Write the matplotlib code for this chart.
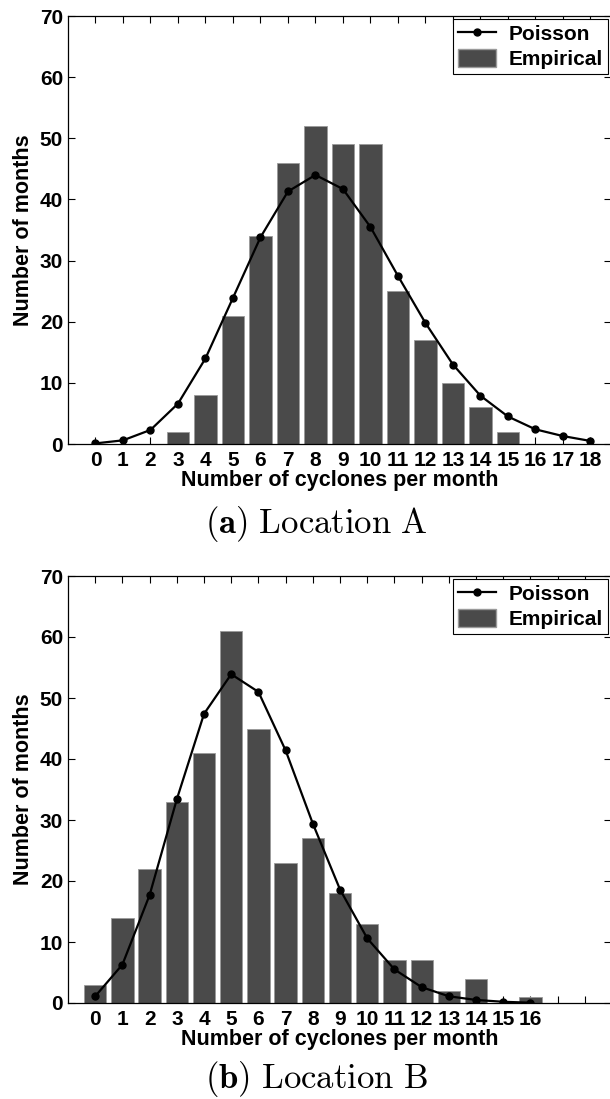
import matplotlib
matplotlib.use("Agg")
import matplotlib.pyplot as plt
from matplotlib.lines import Line2D
from matplotlib.patches import Patch

plt.rcParams['font.family'] = ['Liberation Sans', 'DejaVu Sans']
plt.rcParams['font.weight'] = 'bold'
plt.rcParams['mathtext.fontset'] = 'cm'

# ---- data (Location A) ----
counts_a = list(range(0, 19))
empirical_a = [0, 0, 0, 2, 8, 21, 34, 46, 52, 49, 49, 25, 17, 10, 6, 2, 0, 0, 0]
poisson_a = [0.1, 0.6, 2.3, 6.6, 14.0, 23.9, 33.8, 41.3, 44.0, 41.7, 35.5, 27.5,
             19.8, 13.0, 7.9, 4.5, 2.4, 1.3, 0.5]

# ---- data (Location B) ----
counts_b = list(range(0, 17))
empirical_b = [3, 14, 22, 33, 41, 61, 45, 23, 27, 18, 13, 7, 7, 2, 4, 0, 1]
poisson_b = [1.1, 6.3, 17.7, 33.4, 47.4, 53.9, 51.0, 41.4, 29.4, 18.6, 10.6, 5.5,
             2.6, 1.1, 0.5, 0.2, 0.05]

tick_labels_a = [str(i) for i in range(0, 19)]
tick_labels_b = [str(i) for i in range(0, 17)] + ['', '']
yticks = [0, 10, 20, 30, 40, 50, 60, 70]

W, H = 610, 1099
fig = plt.figure(figsize=(W / 100, H / 100), dpi=100)

bar_color = '#4a4a4a'
TICK_FS = 15
LABEL_FS = 15.5
LEG_FS = 15


def make_panel(rect, xs, emp, poi, labels, xlim, caption, cap_y):
    ax = fig.add_axes(rect)
    ax.bar(xs, emp, width=0.82, color=bar_color, edgecolor='#9a9a9a',
           linewidth=0.6, zorder=2)
    ax.plot(xs, poi, color='black', lw=1.6, marker='o', markersize=5,
            zorder=3)
    ax.set_xlim(*xlim)
    ax.set_ylim(0, 70)
    ax.set_xticks(range(0, 19))
    ax.set_xticklabels(labels)
    ax.set_yticks(yticks)
    ax.tick_params(direction='in', top=True, right=True, length=5,
                   width=0.8, labelsize=TICK_FS)
    ax.tick_params(axis='x', pad=5)
    ax.tick_params(axis='y', pad=3.5)
    for lab in ax.get_xticklabels() + ax.get_yticklabels():
        lab.set_fontweight('bold')
    ax.set_xlabel('Number of cyclones per month', fontsize=LABEL_FS,
                  fontweight='bold', labelpad=0)
    ax.set_ylabel('Number of months', fontsize=LABEL_FS, fontweight='bold',
                  labelpad=4)
    for s in ax.spines.values():
        s.set_linewidth(0.9)
    handles = [Line2D([0], [0], color='black', lw=1.6, marker='o',
                      markersize=5),
               Patch(facecolor=bar_color, edgecolor='#9a9a9a')]
    leg = ax.legend(handles, ['Poisson', 'Empirical'], loc='upper right',
                    frameon=True, fancybox=False, edgecolor='black',
                    framealpha=1, borderaxespad=0.15, handlelength=1.8,
                    handleheight=0.95, handletextpad=0.6,
                    prop={'weight': 'bold', 'size': LEG_FS}, borderpad=0.25,
                    labelspacing=0.2)
    leg.get_frame().set_linewidth(0.8)
    fig.text(316 / W, cap_y, caption, ha='center', va='center', fontsize=25)
    return ax


def ax_rect(left_px, right_px, top_px, bottom_px):
    return [left_px / W, 1 - bottom_px / H, (right_px - left_px) / W,
            (bottom_px - top_px) / H]


make_panel(ax_rect(68, 611, 16, 444), counts_a, empirical_a, poisson_a,
           tick_labels_a, (-1, 18.75), r'$\mathbf{(a)}\ \mathrm{Location\ A}$',
           1 - 524 / H)
make_panel(ax_rect(68, 611, 576, 1003), counts_b, empirical_b, poisson_b,
           tick_labels_b, (-1, 18.96), r'$\mathbf{(b)}\ \mathrm{Location\ B}$',
           1 - 1079 / H)

fig.savefig('out.png', dpi=100)
